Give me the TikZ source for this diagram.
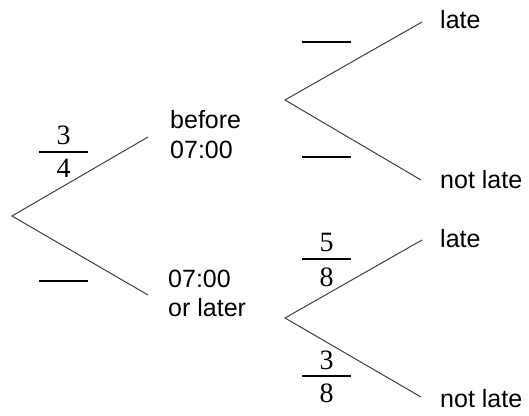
\documentclass[tikz,border=0pt]{standalone}
\usepackage{fontspec}
\setmainfont{Liberation Sans}
\newfontfamily\serifnum{Liberation Serif}
\begin{document}
\begin{tikzpicture}[x=1pt,y=-1pt,
  branch/.style={draw=black!75,line width=1pt},
  blank/.style={draw=black,line width=1.3pt},
  lbl/.style={anchor=base west,inner sep=0pt,font=\fontsize{25}{30}\selectfont},
  digit/.style={inner sep=0pt,font=\serifnum\fontsize{28}{32}\selectfont}]
\useasboundingbox (0,0) rectangle (529,415);
% nodes of the tree
\coordinate (r) at (12,216);
\coordinate (a1) at (148,137);
\coordinate (a2) at (148,295);
\coordinate (b) at (285,100);
\coordinate (b1) at (422,22);
\coordinate (b2) at (421,180);
\coordinate (c) at (285,318);
\coordinate (c1) at (422,240);
\coordinate (c2) at (421,397);
% branches
\draw[branch] (a1) -- (r) -- (a2);
\draw[branch] (b1) -- (b) -- (b2);
\draw[branch] (c1) -- (c) -- (c2);
% labels
\node[lbl] (la1) at (170,128) {before};
\node[lbl] (la1b) at (170,158) {07:00};
\node[lbl] (la2) at (168,287) {07:00};
\node[lbl] (la2b) at (168,316) {or later};
\node[lbl] (lb1) at (440,28) {late};
\node[lbl] (lb2) at (440,188) {not late};
\node[lbl] (lc1) at (440,247) {late};
\node[lbl] (lc2) at (440,407) {not late};
% probabilities
\coordinate (p1l) at (39,152); \coordinate (p1r) at (88,152);
\draw[blank] (p1l) -- (p1r);
\node[digit] (p1n) at (63.5,135) {3};
\node[digit] (p1d) at (63.5,168) {4};
\coordinate (p2l) at (39,281); \coordinate (p2r) at (88,281);
\draw[blank] (p2l) -- (p2r);
\coordinate (q1l) at (302,42); \coordinate (q1r) at (351,42);
\draw[blank] (q1l) -- (q1r);
\coordinate (q2l) at (302,157); \coordinate (q2r) at (351,157);
\draw[blank] (q2l) -- (q2r);
\coordinate (s1l) at (302,259); \coordinate (s1r) at (351,259);
\draw[blank] (s1l) -- (s1r);
\node[digit] (s1n) at (326.5,242) {5};
\node[digit] (s1d) at (326.5,277) {8};
\coordinate (s2l) at (302,376); \coordinate (s2r) at (351,376);
\draw[blank] (s2l) -- (s2r);
\node[digit] (s2n) at (326.5,360) {3};
\node[digit] (s2d) at (326.5,393) {8};
\end{tikzpicture}
\end{document}
